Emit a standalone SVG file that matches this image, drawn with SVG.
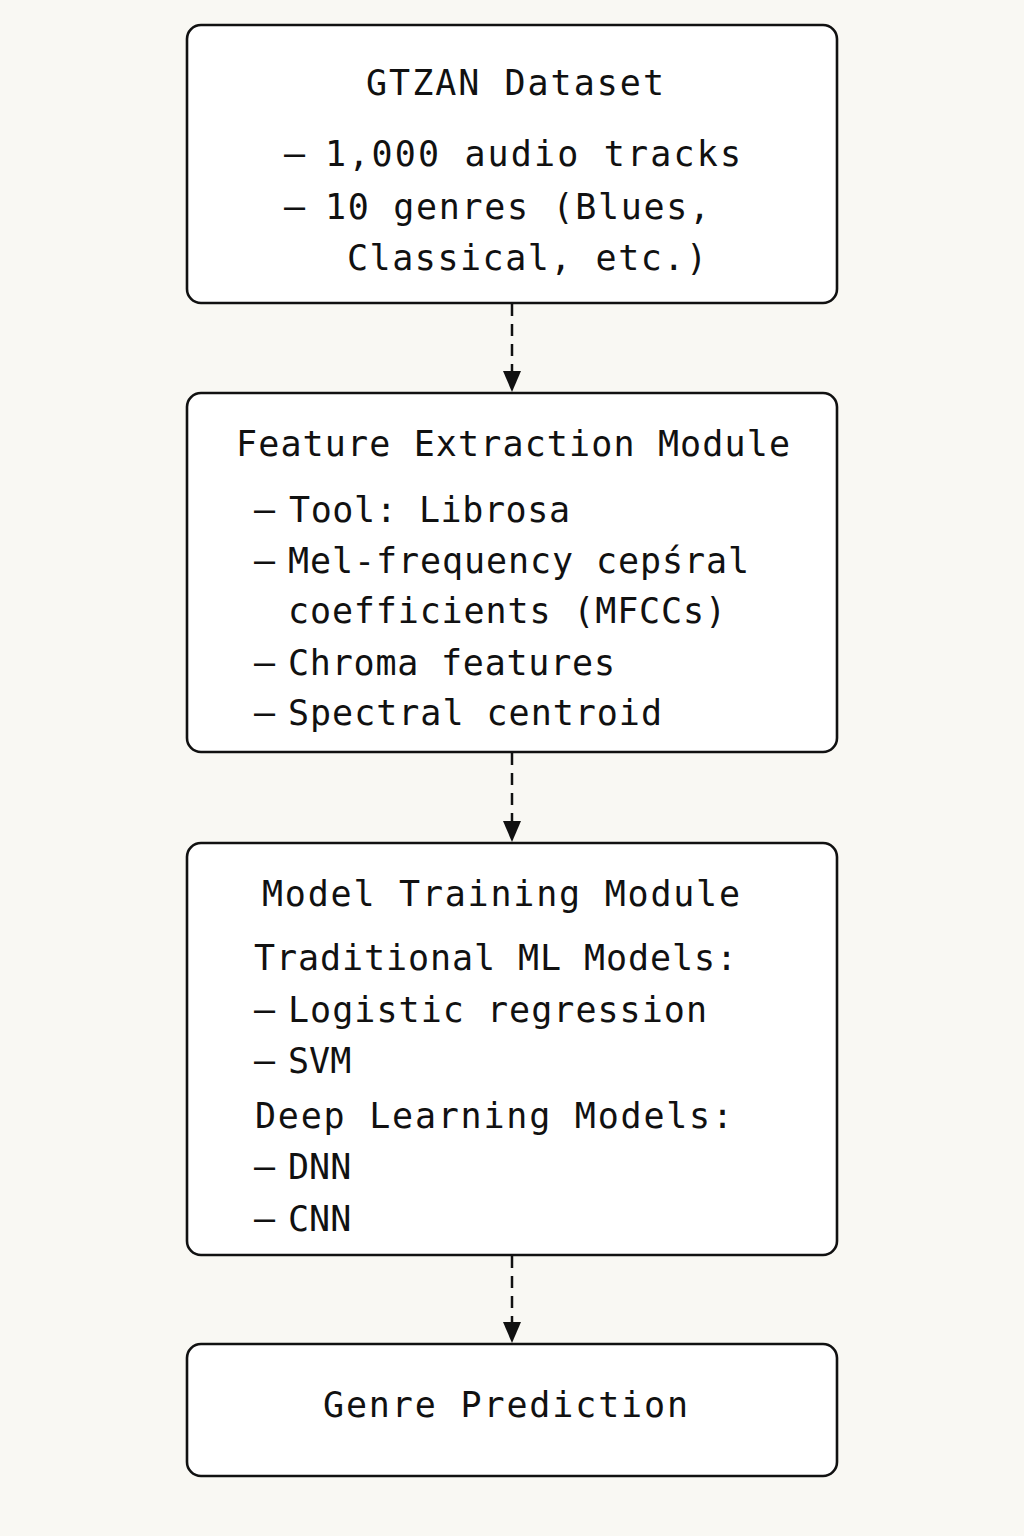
<svg xmlns="http://www.w3.org/2000/svg" width="1024" height="1536" viewBox="0 0 1024 1536">
  <defs>
    <style>
      .box { fill: #ffffff; stroke: #111111; stroke-width: 2.6; }
      .t { font-family: "DejaVu Sans Mono", "Liberation Mono", monospace; font-size: 35px; fill: #111111; }
      .conn { stroke: #111111; stroke-width: 2.5; stroke-dasharray: 12 8; fill: none; }
      .head { fill: #111111; }
    </style>
  </defs>
  <rect x="0" y="0" width="1024" height="1536" fill="#f9f8f3"/>

  <g id="connectors">
    <line class="conn" x1="512" y1="304" x2="512" y2="372"/>
    <polygon class="head" points="503,371 521,371 512,392"/>
    <line class="conn" x1="512" y1="753" x2="512" y2="822"/>
    <polygon class="head" points="503,821 521,821 512,842"/>
    <line class="conn" x1="512" y1="1256" x2="512" y2="1323"/>
    <polygon class="head" points="503,1322 521,1322 512,1343"/>
  </g>

  <g id="gtzan-dataset">
    <rect class="box" x="187" y="25" width="650" height="278" rx="14"/>
    <text class="t" x="366" y="95" textLength="298" lengthAdjust="spacing">GTZAN Dataset</text>
    <text class="t" y="166"><tspan x="284">–</tspan><tspan x="325" textLength="416" lengthAdjust="spacing">1,000 audio tracks</tspan></text>
    <text class="t" y="219"><tspan x="284">–</tspan><tspan x="325" textLength="385" lengthAdjust="spacing">10 genres (Blues,</tspan></text>
    <text class="t" x="347" y="270" textLength="360" lengthAdjust="spacing">Classical, etc.)</text>
  </g>

  <g id="feature-extraction">
    <rect class="box" x="187" y="393" width="650" height="359" rx="14"/>
    <text class="t" x="236" y="456" textLength="554" lengthAdjust="spacing">Feature Extraction Module</text>
    <text class="t" y="522"><tspan x="254">–</tspan><tspan x="289" textLength="281" lengthAdjust="spacing">Tool: Librosa</tspan></text>
    <text class="t" y="573"><tspan x="254">–</tspan><tspan x="288" textLength="461" lengthAdjust="spacing">Mel-frequency cepśral</tspan></text>
    <text class="t" x="288" y="623" textLength="438" lengthAdjust="spacing">coefficients (MFCCs)</text>
    <text class="t" y="675"><tspan x="254">–</tspan><tspan x="288" textLength="327" lengthAdjust="spacing">Chroma features</tspan></text>
    <text class="t" y="725"><tspan x="254">–</tspan><tspan x="288" textLength="374" lengthAdjust="spacing">Spectral centroid</tspan></text>
  </g>

  <g id="model-training">
    <rect class="box" x="187" y="843" width="650" height="412" rx="14"/>
    <text class="t" x="262" y="906" textLength="478" lengthAdjust="spacing">Model Training Module</text>
    <text class="t" x="254" y="970" textLength="483" lengthAdjust="spacing">Traditional ML Models:</text>
    <text class="t" y="1022"><tspan x="254">–</tspan><tspan x="288" textLength="419" lengthAdjust="spacing">Logistic regression</tspan></text>
    <text class="t" y="1073"><tspan x="254">–</tspan><tspan x="288">SVM</tspan></text>
    <text class="t" x="255" y="1128" textLength="478" lengthAdjust="spacing">Deep Learning Models:</text>
    <text class="t" y="1179"><tspan x="254">–</tspan><tspan x="288">DNN</tspan></text>
    <text class="t" y="1231"><tspan x="254">–</tspan><tspan x="288">CNN</tspan></text>
  </g>

  <g id="genre-prediction">
    <rect class="box" x="187" y="1344" width="650" height="132" rx="14"/>
    <text class="t" x="323" y="1417" textLength="365" lengthAdjust="spacing">Genre Prediction</text>
  </g>
</svg>
